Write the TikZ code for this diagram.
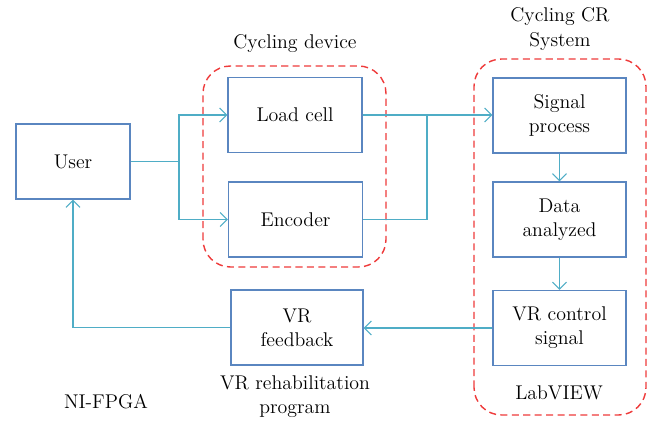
\documentclass[tikz,border=0pt]{standalone}
\usetikzlibrary{arrows.meta}
\definecolor{boxblue}{HTML}{5A86C0}
\definecolor{linkcyan}{HTML}{4FADC6}
\definecolor{groupred}{HTML}{EE3B3B}
\begin{document}
\begin{tikzpicture}[
    font=\fontsize{11.3}{13.8}\selectfont,
    block/.style={draw=boxblue, line width=0.8pt, minimum width=2.66cm, minimum height=1.5cm, inner sep=0pt, align=center},
    link/.style={draw=linkcyan, line width=0.6pt},
    arrowlink/.style={link, -{Straight Barb[length=1.4mm, width=2.8mm]}},
    group/.style={draw=groupred, line width=0.8pt, dash pattern=on 4pt off 2.5pt, rounded corners=0.55cm}
  ]
      \useasboundingbox (0, 0) rectangle (13.02, 8.46);

      % groups
      \draw[group] (4.06, 3.12) rectangle (7.72, 7.14);
      \draw[group] (9.48, 0.16) rectangle (12.92, 7.28);
      \node (devlabel) at (5.9, 7.58) {Cycling device};
      \node[align=center] (crlabel) at (11.2, 7.88) {Cycling CR\\System};
      \node (labview) at (11.18, 0.6) {LabVIEW};
      \node[align=center] (vrlabel) at (5.9, 0.52) {VR rehabilitation\\program};
      \node (fpga) at (2.12, 0.42) {NI-FPGA};

      % blocks
      \node[block, minimum width=2.28cm] (user) at (1.46, 5.23) {User};
      \node[block, minimum width=2.68cm] (load) at (5.9, 6.16) {Load cell};
      \node[block, minimum width=2.68cm] (enc) at (5.91, 4.07) {Encoder};
      \node[block] (sig) at (11.19, 6.15) {Signal\\process};
      \node[block] (data) at (11.19, 4.07) {Data\\analyzed};
      \node[block] (ctrl) at (11.19, 1.9) {VR control\\signal};
      \node[block, minimum width=2.64cm] (fb) at (5.94, 1.91) {VR\\feedback};

      \coordinate (split) at (3.58, 5.23);
      \coordinate (merge) at (8.54, 6.16);

      % connectors
      \draw[link] (user.east) -- (split);
      \draw[arrowlink] (split) |- (load.west);
      \draw[arrowlink] (split) |- (enc.west);
      \draw[arrowlink] (load.east) -- (sig.west |- load.east);
      \draw[link] (enc.east) -| (merge);
      \draw[arrowlink] (sig) -- (data);
      \draw[arrowlink] (data) -- (ctrl);
      \draw[arrowlink] (ctrl.west) -- (fb.east |- ctrl.west);
      \draw[arrowlink] (fb.west) -| (user.south);
    \end{tikzpicture}
\end{document}
